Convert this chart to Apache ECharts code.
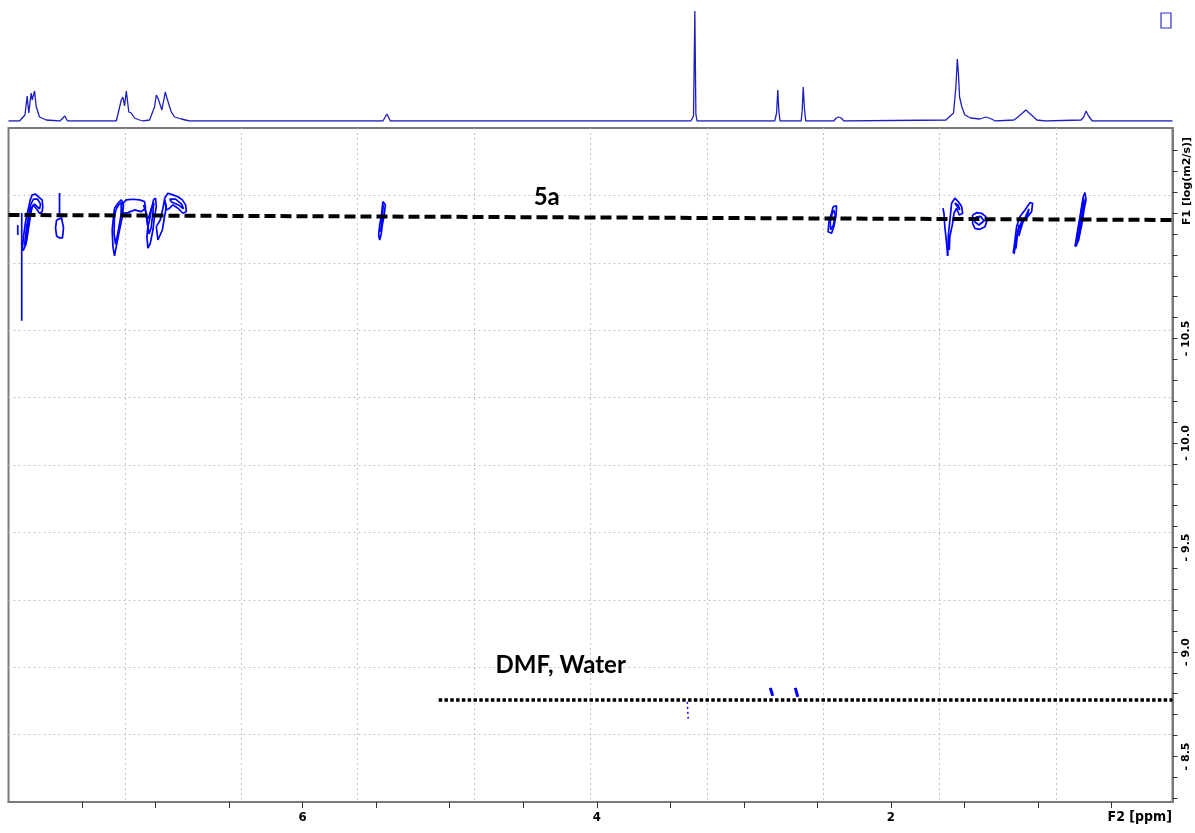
<!DOCTYPE html>
<html><head><meta charset="utf-8">
<script src="https://cdn.jsdelivr.net/npm/echarts@6/dist/echarts.min.js"></script>
<style>html,body{margin:0;padding:0;background:#fff}#c{width:1195px;height:833px}</style>
</head><body><div id="c"></div>
<script>
// ---------- data (F2 in ppm, F1 in log(m2/s)) ----------
const ppmTicks = [0.5,1.0,1.5,2.0,2.5,3.0,3.5,4.0,4.5,5.0,5.5,6.0,6.5,7.0,7.5];
const ppmLabels = [2,4,6];
const logDTicks = [-11.4,-11.3,-11.2,-11.1,-11.0,-10.9,-10.8,-10.7,-10.6,-10.5,-10.4,-10.3,-10.2,-10.1,-10.0,-9.9,-9.8,-9.7,-9.6,-9.5,-9.4,-9.3,-9.2,-9.1,-9.0,-8.9,-8.8,-8.7,-8.6,-8.5,-8.4,-8.3];
const logDLabels = [-10.5,-10.0,-9.5,-9.0,-8.5];

// 1D projection (ppm, intensity)
const projection = [
 [8.0,0],[7.925,0],[7.888,6],[7.873,25],[7.862,8],[7.846,28],[7.839,21],[7.823,30],[7.811,14],[7.789,4],[7.744,1],
 [7.65,0],[7.639,0],[7.617,5],[7.599,0],
 [7.30,0],[7.267,0],[7.233,21],[7.222,24],[7.211,15],[7.199,30],[7.182,9],[7.165,8],[7.143,3],[7.109,1],[7.086,0],
 [7.041,1],[7.007,14],[6.995,26],[6.984,23],[6.973,24],[6.957,11],[6.934,29],[6.923,23],[6.912,24],[6.893,9],[6.871,4],[6.825,2],[6.769,0],
 [5.48,0],[5.454,0],[5.427,7],[5.403,0],
 [3.36,0],[3.35,0],[3.342,5],[3.333,110],[3.326,7],[3.318,0],
 [2.79,0],[2.784,0],[2.777,8],[2.769,31],[2.762,11],[2.754,0],
 [2.61,0],[2.603,11],[2.596,34],[2.588,13],[2.579,0],
 [2.389,0],[2.371,3],[2.355,4],[2.337,3],[2.32,0],
 [1.626,1],[1.574,8],[1.558,34],[1.548,62],[1.540,46],[1.533,24],[1.527,26],[1.517,14],[1.497,6],[1.458,3],[1.395,2],[1.354,4],[1.316,2],[1.290,0],
 [1.163,1],[1.136,4],[1.082,11],[1.044,6],[1.007,1],[0.95,0],
 [0.707,1],[0.689,4],[0.673,10],[0.656,5],[0.630,0],
 [0.085,0]
];

// DOSY contours of 5a
const cA1 = [[7.937,-11.043],[7.937,-10.995]];
const cA2 = [[7.910,-11.100],[7.910,-10.585]];
const cA3 = [[7.907,-10.923],[7.898,-10.987],[7.884,-11.059],[7.875,-11.091],[7.862,-11.131],[7.852,-11.163],[7.839,-11.187],[7.816,-11.191],[7.794,-11.176],[7.771,-11.163],[7.767,-11.131],[7.771,-11.107],[7.789,-11.099],[7.812,-11.123],[7.835,-11.139],[7.846,-11.107],[7.857,-11.059],[7.869,-11.003],[7.880,-10.955],[7.898,-10.923],[7.907,-10.923]];
const cA4 = [[7.891,-10.947],[7.878,-11.029],[7.864,-11.091],[7.850,-11.139],[7.830,-11.167],[7.803,-11.167],[7.782,-11.143],[7.789,-11.120],[7.823,-11.143],[7.844,-11.124],[7.857,-11.077],[7.871,-11.010],[7.884,-10.947],[7.891,-10.947]];
const cB1 = [[7.653,-11.196],[7.653,-11.081]];
const cB2 = [[7.673,-11.067],[7.639,-11.077],[7.626,-11.029],[7.633,-10.981],[7.653,-10.981],[7.673,-10.990],[7.680,-11.029],[7.673,-11.067]];
const cC1 = [[7.279,-11.123],[7.256,-11.147],[7.233,-11.163],[7.218,-11.139],[7.226,-11.083],[7.245,-11.019],[7.263,-10.955],[7.279,-10.895],[7.290,-10.939],[7.295,-11.019],[7.286,-11.083],[7.279,-11.123]];
const cC1b = [[7.270,-11.115],[7.250,-11.140],[7.232,-11.150],[7.235,-11.090],[7.255,-11.010],[7.272,-10.950],[7.282,-11.000],[7.280,-11.080],[7.270,-11.115]];
const cC2 = [[7.233,-11.139],[7.199,-11.163],[7.154,-11.166],[7.109,-11.163],[7.075,-11.155],[7.068,-11.123],[7.097,-11.107],[7.143,-11.115],[7.188,-11.102],[7.222,-11.099],[7.233,-11.139]];
const cC3 = [[7.082,-11.139],[7.063,-11.099],[7.052,-11.035],[7.059,-10.987],[7.052,-10.932],[7.036,-10.955],[7.018,-11.019],[7.007,-11.083],[6.995,-11.131],[7.000,-11.171],[7.014,-11.163],[7.029,-11.115],[7.041,-11.067],[7.052,-11.035]];
const cC3b = [[7.070,-11.120],[7.058,-11.060],[7.045,-11.000],[7.030,-11.030],[7.020,-11.090],[7.012,-11.150],[7.030,-11.120],[7.050,-11.070]];
const cC4 = [[6.995,-11.035],[6.984,-10.971],[6.973,-10.968],[6.954,-11.019],[6.939,-11.083],[6.927,-11.131],[6.939,-11.163],[6.950,-11.123],[6.968,-11.067],[6.995,-11.035]];
const cC5 = [[6.939,-11.171],[6.916,-11.195],[6.882,-11.187],[6.848,-11.178],[6.818,-11.163],[6.796,-11.139],[6.791,-11.107],[6.814,-11.099],[6.848,-11.123],[6.882,-11.139],[6.905,-11.123],[6.927,-11.115],[6.939,-11.171]];
const cC6 = [[6.905,-11.167],[6.864,-11.167],[6.823,-11.143],[6.810,-11.120],[6.844,-11.139],[6.891,-11.153],[6.905,-11.167]];
const cD = [[5.454,-11.155],[5.437,-11.139],[5.447,-11.083],[5.458,-11.043],[5.465,-11.003],[5.476,-10.971],[5.483,-10.995],[5.476,-11.043],[5.465,-11.083],[5.458,-11.131],[5.454,-11.155]];
const cDb = [[5.452,-11.140],[5.458,-11.070],[5.470,-11.010],[5.462,-11.060],[5.452,-11.140]];
const cE = [[2.393,-11.131],[2.369,-11.134],[2.374,-11.083],[2.388,-11.035],[2.403,-11.003],[2.427,-11.011],[2.420,-11.067],[2.403,-11.099],[2.393,-11.131]];
const cEb = [[2.390,-11.115],[2.378,-11.090],[2.392,-11.040],[2.410,-11.020],[2.412,-11.060],[2.398,-11.100],[2.390,-11.115]];
const cF1 = [[1.614,-10.895],[1.621,-10.955],[1.633,-11.035],[1.639,-11.099],[1.646,-11.124]];
const cF2 = [[1.603,-10.923],[1.599,-10.987],[1.580,-11.051],[1.571,-11.099],[1.553,-11.123],[1.535,-11.091],[1.512,-11.099],[1.519,-11.131],[1.542,-11.155],[1.565,-11.171],[1.587,-11.147],[1.595,-11.091],[1.609,-10.995],[1.614,-10.895]];
const cF3 = [[1.565,-11.148],[1.544,-11.139],[1.531,-11.115],[1.551,-11.134],[1.565,-11.148]];
const cG1 = [[1.444,-11.091],[1.417,-11.102],[1.383,-11.099],[1.354,-11.083],[1.349,-11.059],[1.360,-11.035],[1.395,-11.022],[1.429,-11.027],[1.444,-11.051],[1.444,-11.091]];
const cG2 = [[1.422,-11.081],[1.388,-11.084],[1.367,-11.062],[1.401,-11.043],[1.429,-11.057],[1.422,-11.081]];
const cH1 = [[1.168,-10.908],[1.156,-10.971],[1.145,-11.035],[1.122,-11.083],[1.088,-11.115],[1.054,-11.150],[1.036,-11.147],[1.043,-11.107],[1.077,-11.075],[1.111,-11.059],[1.134,-11.019],[1.150,-10.955],[1.163,-10.904]];
const cH2 = [[1.129,-10.990],[1.116,-11.038],[1.088,-11.077],[1.061,-11.120],[1.068,-11.096],[1.102,-11.057],[1.122,-11.010],[1.129,-10.990]];
const cH3 = [[1.150,-10.930],[1.140,-10.990],[1.128,-11.045]];
const cI = [[0.748,-10.939],[0.737,-10.987],[0.726,-11.035],[0.714,-11.083],[0.703,-11.131],[0.692,-11.178],[0.680,-11.198],[0.673,-11.163],[0.687,-11.115],[0.696,-11.067],[0.710,-11.019],[0.723,-10.971],[0.742,-10.939]];
const cIb = [[0.735,-10.960],[0.720,-11.040],[0.705,-11.110],[0.690,-11.170],[0.684,-11.150],[0.700,-11.080],[0.716,-11.010],[0.735,-10.960]];
// DMF / water contours
const cW1 = [[2.820,-8.828],[2.803,-8.790]];
const cW2 = [[2.650,-8.828],[2.633,-8.785]];
const cW3 = [[3.384,-8.761],[3.378,-8.675]];

// diffusion reference lines
const line5a = [[8.0,-11.091],[0.085,-11.067]];
const lineSolvent = [[5.075,-8.770],[0.085,-8.770]];
const annotations = [
  {text:'5a', ppm:4.34, logD:-11.177},
  {text:'DMF, Water', ppm:4.245, logD:-8.938}
];

// ---------- chart ----------
const contours = [cA1,cA2,cA3,cA4,cB1,cB2,cC1,cC1b,cC2,cC3,cC3b,cC4,cC5,cC6,cD,cDb,cE,cEb,cF1,cF2,cF3,cG1,cG2,cH1,cH2,cH3,cI,cIb];
const BLUE = '#0000ff';
const chart = echarts.init(document.getElementById('c'), null, {renderer:'canvas'});

const series = [];
series.push({type:'line', xAxisIndex:0, yAxisIndex:0, data:projection, showSymbol:false, symbol:'none',
  lineStyle:{color:'#1e1ebe', width:1.3}, silent:true, z:3});
contours.forEach(c => series.push({type:'line', xAxisIndex:1, yAxisIndex:1, data:c, symbol:'none',
  lineStyle:{color:BLUE, width:1.7}, silent:true, z:4}));
[cW1, cW2].forEach(c => series.push({type:'line', xAxisIndex:1, yAxisIndex:1, data:c, symbol:'none',
  lineStyle:{color:BLUE, width:3}, silent:true, z:4}));
series.push({type:'line', xAxisIndex:1, yAxisIndex:1, data:cW3, symbol:'none',
  lineStyle:{color:BLUE, width:1.4, type:[2,3]}, silent:true, z:4});
series.push({type:'line', xAxisIndex:1, yAxisIndex:1, data:line5a, symbol:'none',
  lineStyle:{color:'#000', width:4, type:[11,5]}, silent:true, z:5});
series.push({type:'line', xAxisIndex:1, yAxisIndex:1, data:lineSolvent, symbol:'none',
  lineStyle:{color:'#000', width:3.5, type:[3.5,2.3]}, silent:true, z:5});
series.push({type:'scatter', xAxisIndex:1, yAxisIndex:1, symbolSize:0,
  itemStyle:{color:'#000', opacity:1},
  data:annotations.map(a => ({value:[a.ppm, a.logD], name:a.text})),
  label:{show:true, position:'inside', formatter:p => p.name, color:'#000', opacity:1,
    fontFamily:'Lato', fontWeight:'bold', fontSize:24}, silent:true, z:6});

chart.setOption({
  animation:false,
  backgroundColor:'#fff',
  grid:[
    {left:8.5, width:1164, top:1, height:120, show:false},
    {left:8.5, width:1164, top:128, height:674, show:true, borderColor:'#7a7a7a', borderWidth:2, backgroundColor:'transparent'},
    {left:8.5, width:1164, top:128, height:674, show:false}
  ],
  xAxis:[
    {gridIndex:0, type:'value', min:0.085, max:8.0, inverse:true, show:false, axisLine:{onZero:false}},
    {gridIndex:1, type:'value', min:0.085, max:8.0, inverse:true, position:'bottom',
      axisLine:{show:true, onZero:false, lineStyle:{color:'#7a7a7a', width:2}},
      axisTick:{show:true, inside:false, length:6, customValues:ppmTicks, lineStyle:{color:'#333', width:1}},
      axisLabel:{show:true, customValues:ppmLabels, margin:9, color:'#000',
        fontFamily:'"Liberation Sans Narrow","DejaVu Sans Condensed",sans-serif', fontWeight:'bold', fontSize:13},
      splitLine:{show:false}},
    {gridIndex:2, type:'value', min:0, max:10, interval:1, position:'bottom',
      axisLine:{show:false, onZero:false}, axisTick:{show:false}, axisLabel:{show:false},
      splitLine:{show:true, showMinLine:false, showMaxLine:false, lineStyle:{color:'#c4c4c4', width:1, type:[2,3]}}}
  ],
  yAxis:[
    {gridIndex:0, type:'value', min:0, max:120, show:false, axisLine:{onZero:false}},
    {gridIndex:1, type:'value', min:-11.507, max:-8.282, inverse:true, position:'right',
      axisLine:{show:true, onZero:false, lineStyle:{color:'#7a7a7a', width:2}},
      axisTick:{show:true, inside:false, length:5, customValues:logDTicks, lineStyle:{color:'#333', width:1}},
      axisLabel:{show:true, customValues:logDLabels, rotate:90, margin:8, color:'#000',
        fontFamily:'"DejaVu Sans",sans-serif', fontWeight:'bold', fontSize:11,
        formatter:v => (v < 0 ? '- ' : '') + Math.abs(v).toFixed(1)},
      splitLine:{show:false}},
    {gridIndex:2, type:'value', min:0, max:10, interval:1, position:'left',
      axisLine:{show:false, onZero:false}, axisTick:{show:false}, axisLabel:{show:false},
      splitLine:{show:true, showMinLine:false, showMaxLine:false, lineStyle:{color:'#c4c4c4', width:1, type:[2,3]}}}
  ],
  graphic:[
    {type:'text', x:1187, y:181, rotation:Math.PI/2,
      style:{text:'F1 [log(m2/s)]', fill:'#000', font:'bold 11px "DejaVu Sans"', align:'center', verticalAlign:'middle'}},
    {type:'text', x:1172, y:817,
      style:{text:'F2 [ppm]', fill:'#000', font:'bold 14px "Liberation Sans Narrow","DejaVu Sans Condensed"', align:'right', verticalAlign:'middle'}},
    {type:'rect', shape:{x:1161, y:13, width:10, height:15},
      style:{fill:'none', stroke:'#3030d0', lineWidth:1.2}}
  ],
  series:series
});
</script></body></html>
